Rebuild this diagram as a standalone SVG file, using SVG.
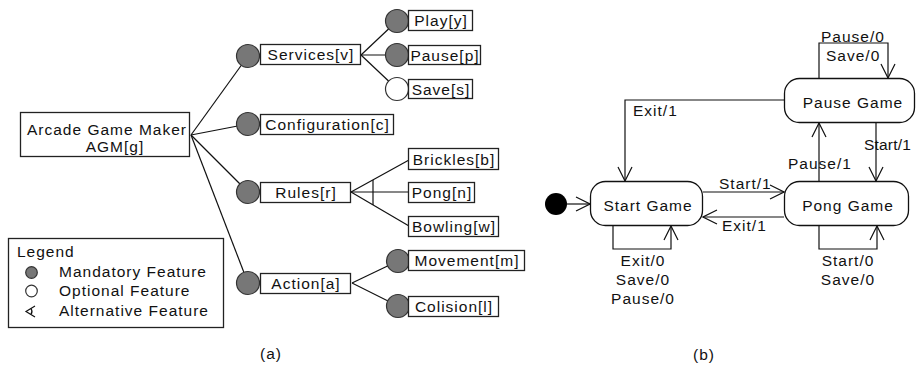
<svg xmlns="http://www.w3.org/2000/svg" width="916" height="367" viewBox="0 0 916 367">
<defs>
<style>
text{font-family:"Liberation Sans",Arial,sans-serif;font-size:15.5px;letter-spacing:1px;fill:#111}
.m{text-anchor:middle}
.box{fill:#fff;stroke:#222;stroke-width:1.3}
.ln{fill:none;stroke:#111;stroke-width:1.2}
.man{fill:#777;stroke:#333;stroke-width:1.2}
.opt{fill:#fff;stroke:#333;stroke-width:1.2}
.st{fill:#fff;stroke:#111;stroke-width:1.3}
</style>
<marker id="arr" viewBox="0 0 16 16" refX="15" refY="8" markerWidth="16" markerHeight="16" markerUnits="userSpaceOnUse" orient="auto">
<path d="M1,1 L15,8 L1,15" fill="none" stroke="#111" stroke-width="1.2"/>
</marker>
</defs>
<rect width="916" height="367" fill="#fff"/>

<g id="connectors-a">
<line class="ln" x1="191" y1="135" x2="248" y2="56"/>
<line class="ln" x1="191" y1="135" x2="248" y2="124"/>
<line class="ln" x1="191" y1="135" x2="248" y2="192"/>
<line class="ln" x1="191" y1="135" x2="248" y2="283"/>
<line class="ln" x1="361" y1="55" x2="397" y2="21"/>
<line class="ln" x1="361" y1="55" x2="397" y2="55"/>
<line class="ln" x1="361" y1="55" x2="397" y2="89"/>
<line class="ln" x1="351" y1="192" x2="409" y2="160"/>
<line class="ln" x1="351" y1="192" x2="409" y2="192"/>
<line class="ln" x1="351" y1="192" x2="409" y2="226"/>
<line class="ln" x1="373" y1="180" x2="373" y2="205"/>
<line class="ln" x1="352" y1="283" x2="398" y2="261"/>
<line class="ln" x1="352" y1="283" x2="398" y2="306"/>
</g>

<g id="root">
<rect class="box" x="20.5" y="112.5" width="169" height="44"/>
<text class="m" x="107" y="135">Arcade Game Maker</text>
<text class="m" x="115" y="152">AGM[g]</text>
</g>

<g id="services">
<circle class="man" cx="248" cy="56" r="11.5"/>
<rect class="box" x="260.5" y="44.5" width="100" height="20"/>
<text class="m" x="311" y="60">Services[v]</text>
</g>
<g id="play">
<circle class="man" cx="397" cy="21" r="11.5"/>
<rect class="box" x="408.5" y="10.5" width="64" height="20"/>
<text class="m" x="441" y="26">Play[y]</text>
</g>
<g id="pause">
<circle class="man" cx="397" cy="55" r="11.5"/>
<rect class="box" x="408.5" y="45.5" width="72" height="19"/>
<text class="m" x="445" y="60.5">Pause[p]</text>
</g>
<g id="save">
<circle class="opt" cx="397" cy="89" r="11.5"/>
<rect class="box" x="408.5" y="79.5" width="64" height="19"/>
<text class="m" x="441" y="94.5">Save[s]</text>
</g>
<g id="configuration">
<circle class="man" cx="248" cy="124" r="11.5"/>
<rect class="box" x="260.5" y="114.5" width="133" height="20"/>
<text class="m" x="327.5" y="130">Configuration[c]</text>
</g>
<g id="rules">
<circle class="man" cx="248" cy="192" r="11.5"/>
<rect class="box" x="260.5" y="182.5" width="90" height="20"/>
<text class="m" x="306" y="198">Rules[r]</text>
</g>
<g id="brickles">
<rect class="box" x="408.5" y="148.5" width="90" height="21"/>
<text class="m" x="454" y="164.5">Brickles[b]</text>
</g>
<g id="pong">
<rect class="box" x="408.5" y="182.5" width="66" height="20"/>
<text class="m" x="442" y="198">Pong[n]</text>
</g>
<g id="bowling">
<rect class="box" x="408.5" y="216.5" width="90" height="20"/>
<text class="m" x="454" y="232">Bowling[w]</text>
</g>
<g id="action">
<circle class="man" cx="248" cy="283" r="11.5"/>
<rect class="box" x="260.5" y="273.5" width="90" height="20"/>
<text class="m" x="306" y="289">Action[a]</text>
</g>
<g id="movement">
<circle class="man" cx="398" cy="261" r="11.5"/>
<rect class="box" x="408.5" y="250.5" width="116" height="20"/>
<text class="m" x="467" y="266">Movement[m]</text>
</g>
<g id="colision">
<circle class="man" cx="398" cy="306" r="11.5"/>
<rect class="box" x="408.5" y="296.5" width="90" height="20"/>
<text class="m" x="454" y="312">Colision[l]</text>
</g>

<g id="legend">
<rect class="box" x="8.5" y="238.5" width="215" height="89"/>
<text x="17" y="257">Legend</text>
<circle class="man" cx="31.5" cy="272.5" r="5.8"/>
<text x="59" y="277">Mandatory Feature</text>
<circle class="opt" cx="31.5" cy="291" r="5.8"/>
<text x="59" y="296">Optional Feature</text>
<path class="ln" d="M35,306 L26,311.5 L35,317 M31,308.5 Q33,311.5 31,314.5"/>
<text x="59" y="316">Alternative Feature</text>
</g>

<text class="m" x="271" y="359">(a)</text>
<text class="m" x="704" y="360">(b)</text>

<g id="connectors-b">
<line class="ln" x1="567" y1="204" x2="590" y2="204" marker-end="url(#arr)"/>
<line class="ln" x1="703" y1="192" x2="784" y2="192" marker-end="url(#arr)"/>
<line class="ln" x1="784" y1="217" x2="703" y2="217" marker-end="url(#arr)"/>
<path class="ln" d="M613,226 V249 H671 V226" marker-end="url(#arr)"/>
<path class="ln" d="M819,226 V249 H877 V226" marker-end="url(#arr)"/>
<path class="ln" d="M819,78 V43 H888 V78" marker-end="url(#arr)"/>
<path class="ln" d="M785,100 H625 V181" marker-end="url(#arr)"/>
<line class="ln" x1="819" y1="181" x2="819" y2="123" marker-end="url(#arr)"/>
<line class="ln" x1="876" y1="123" x2="876" y2="181" marker-end="url(#arr)"/>
<text x="719" y="189">Start/1</text>
<text x="722" y="231">Exit/1</text>
<text class="m" x="643" y="266">Exit/0</text>
<text class="m" x="643" y="285">Save/0</text>
<text class="m" x="643" y="304">Pause/0</text>
<text class="m" x="848" y="266">Start/0</text>
<text class="m" x="848" y="285">Save/0</text>
<text x="821" y="42">Pause/0</text>
<text x="826" y="61">Save/0</text>
<text x="633" y="116">Exit/1</text>
<text x="788" y="169">Pause/1</text>
<text x="864" y="150" style="letter-spacing:0.2px">Start/1</text>
</g>

<g id="initial">
<circle cx="556" cy="204" r="11" fill="#000"/>
</g>
<g id="start-game">
<rect class="st" x="590.5" y="181.5" width="112" height="44" rx="15"/>
<text class="m" x="648" y="211">Start Game</text>
</g>
<g id="pong-game">
<rect class="st" x="784.5" y="181.5" width="124" height="44" rx="15"/>
<text class="m" x="848" y="211">Pong Game</text>
</g>
<g id="pause-game">
<rect class="st" x="784.5" y="78.5" width="130" height="44" rx="15"/>
<text class="m" x="853" y="108">Pause Game</text>
</g>
</svg>
